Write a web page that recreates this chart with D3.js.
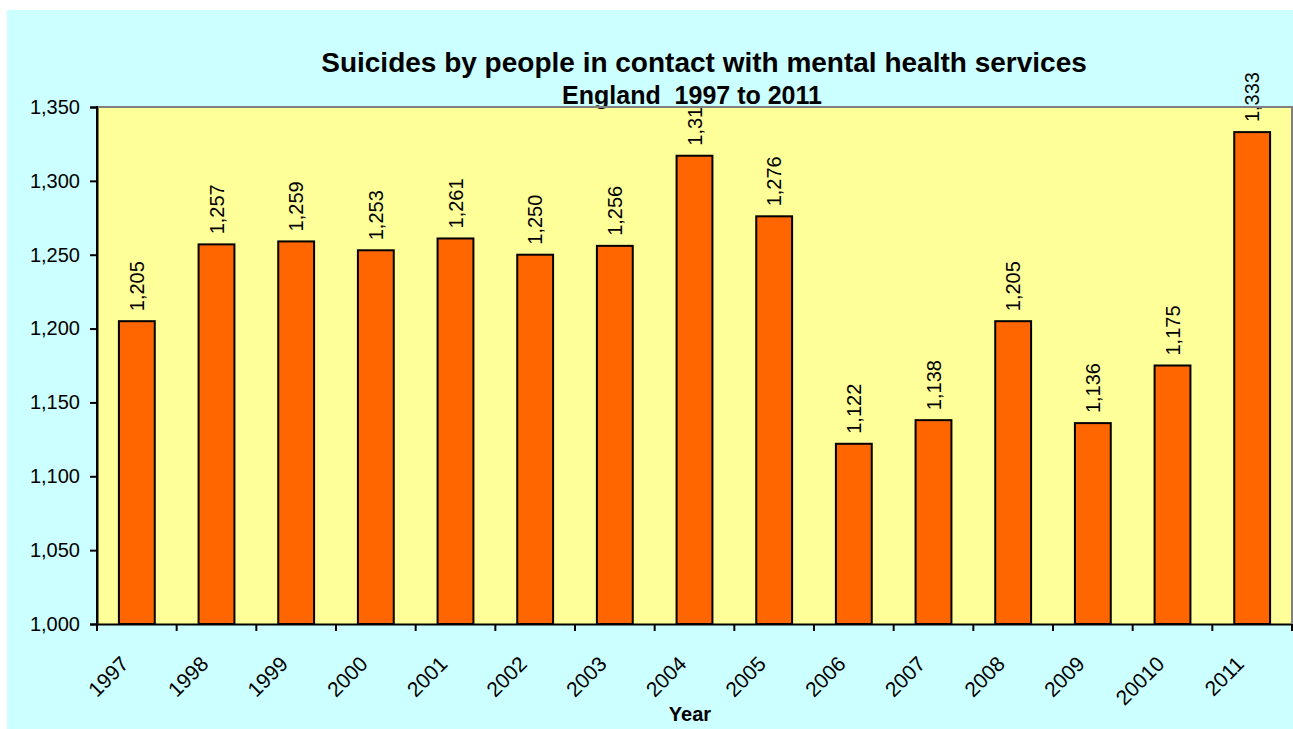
<!DOCTYPE html>
<html><head><meta charset="utf-8">
<script src="https://cdn.jsdelivr.net/npm/d3@7"></script>
<style>body{margin:0;background:#fff;}svg{display:block;font-family:Arial,"Liberation Sans",sans-serif;}</style>
</head><body>
<svg id="c" width="1293" height="729"></svg>
<script>
const years = ["1997","1998","1999","2000","2001","2002","2003","2004","2005","2006","2007","2008","2009","20010","2011"];
const suicides = [1205,1257,1259,1253,1261,1250,1256,1317,1276,1122,1138,1205,1136,1175,1333];
const yTicks = [1000,1050,1100,1150,1200,1250,1300,1350];
const titleText = "Suicides by people in contact with mental health services";
const subtitleText = "England  1997 to 2011";
const xTitle = "Year";

const svg = d3.select("#c");
const W = 1293, H = 729;
const m = {left:97, top:107, right:1292, bottom:624};

svg.append("rect").attr("x",7).attr("y",10).attr("width",W-7).attr("height",H-10).attr("fill","#CCFFFF");
svg.append("rect").attr("x",m.left).attr("y",m.top).attr("width",m.right-m.left).attr("height",m.bottom-m.top).attr("fill","#FFFF99");

const x = d3.scaleBand().domain(years).range([m.left,m.right]).paddingInner(0.55).paddingOuter(0.275);
const xb = d3.scaleBand().domain(years).range([m.left,m.right]);
const y = d3.scaleLinear().domain([1000,1350]).range([m.bottom,m.top]);

// bars
svg.append("g").selectAll("rect").data(suicides).join("rect")
  .attr("x",(d,i)=>x(years[i])).attr("y",d=>y(d))
  .attr("width",x.bandwidth()).attr("height",d=>y(1000)-y(d))
  .attr("fill","#FF6600").attr("stroke","#000").attr("stroke-width",2);

// y axis
const ya = svg.append("g").attr("transform",`translate(${m.left},0)`)
  .call(d3.axisLeft(y).tickValues(yTicks).tickFormat(d3.format(",")).tickSize(7).tickPadding(10));
ya.select(".domain").attr("stroke","#000").attr("stroke-width",2);
ya.selectAll(".tick line").attr("stroke","#000").attr("stroke-width",2);
ya.selectAll(".tick text").attr("font-size",20).attr("font-family","Arial,'Liberation Sans',sans-serif").attr("fill","#000");

// x axis
const xa = svg.append("g").attr("transform",`translate(0,${m.bottom})`)
  .call(d3.axisBottom(xb).tickSize(0).tickFormat(""));
xa.select(".domain").attr("stroke","#000").attr("stroke-width",2);
xa.selectAll(".tick").remove();
const bounds = years.map(d=>xb(d)).concat([m.right]);
svg.append("g").selectAll("line").data(bounds).join("line")
  .attr("x1",d=>d).attr("x2",d=>d).attr("y1",m.bottom).attr("y2",m.bottom+7)
  .attr("stroke","#000").attr("stroke-width",2);

svg.append("g").selectAll("text").data(years).join("text")
  .attr("transform",d=>`translate(${xb(d)+xb.bandwidth()/2-12},${m.bottom+36}) rotate(-45)`)
  .attr("text-anchor","end").attr("dy","0.35em").attr("font-size",21).text(d=>d);

// value labels
svg.append("g").selectAll("text").data(suicides).join("text")
  .attr("transform",(d,i)=>`translate(${x(years[i])+x.bandwidth()/2},${y(d)-10}) rotate(-90)`)
  .attr("dy","0.35em").attr("font-size",20).text(d=>d3.format(",")(d));

// titles
svg.append("text").attr("x",704).attr("y",72).attr("text-anchor","middle")
  .attr("font-size",28).attr("font-weight","bold").text(titleText);
const subBg = svg.append("rect").attr("fill","#CCFFFF");
const sub = svg.append("text").attr("x",692).attr("y",104).attr("text-anchor","middle")
  .attr("font-size",25).attr("font-weight","bold").style("white-space","pre").text(subtitleText);
const bb = sub.node().getBBox();
subBg.attr("x",bb.x).attr("y",86).attr("width",bb.width).attr("height",m.top-1-86);

// border top/right gray
svg.append("path").attr("d",`M${m.left},${m.top}H${m.right}V${m.bottom}`).attr("fill","none").attr("stroke","#808080").attr("stroke-width",2);
svg.append("line").attr("x1",m.left).attr("x2",m.left).attr("y1",m.top-1).attr("y2",m.bottom+1).attr("stroke","#000").attr("stroke-width",2);

svg.append("text").attr("x",690).attr("y",721).attr("text-anchor","middle")
  .attr("font-size",20).attr("font-weight","bold").text(xTitle);
</script>
</body></html>
